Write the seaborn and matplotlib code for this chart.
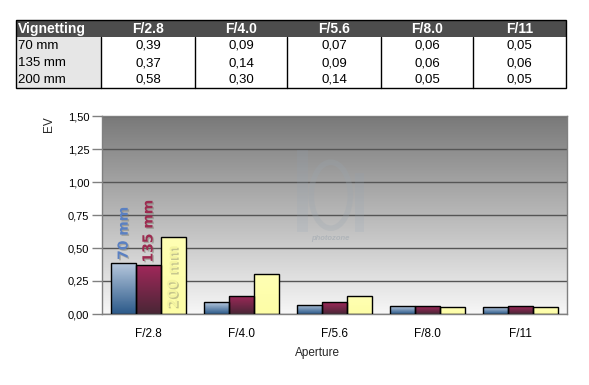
import numpy as np
import pandas as pd
import matplotlib
matplotlib.use('Agg')
import matplotlib.pyplot as plt
import seaborn as sns
import matplotlib.patheffects as pe
from matplotlib.colors import LinearSegmentedColormap, to_rgba
from matplotlib.patches import Rectangle, Ellipse

# ---------------- data ----------------
apertures = ['F/2.8', 'F/4.0', 'F/5.6', 'F/8.0', 'F/11']
lenses = ['70 mm', '135 mm', '200 mm']
ev_70 = [0.39, 0.09, 0.07, 0.06, 0.05]
ev_135 = [0.37, 0.14, 0.09, 0.06, 0.06]
ev_200 = [0.58, 0.30, 0.14, 0.05, 0.05]
yticks = [0.0, 0.25, 0.50, 0.75, 1.00, 1.25, 1.50]
table_title = 'Vignetting'

# ---------------- style ----------------
sns.set_theme(style='white')
plt.rcParams['font.family'] = ['Liberation Sans', 'DejaVu Sans']

W, H = 589, 385
fig = plt.figure(figsize=(W / 100, H / 100), dpi=100)
fig.patch.set_facecolor('white')

df = pd.DataFrame({
    'Aperture': apertures * 3,
    'EV': ev_70 + ev_135 + ev_200,
    'Lens': [l for l in lenses for _ in apertures],
})

base_cols = ['#6f8fb5', '#7a2845', '#ffffaa']
grad_cols = {
    0: ('#2c5a8a', '#b8c9de'),   # bottom, top
    1: ('#4a2636', '#a0285a'),
    2: ('#fdfda6', '#ffffb4'),
}

ax = fig.add_axes([102 / W, 1 - 314 / H, (567 - 102) / W, (314 - 116) / H])

# background gradient
bg = LinearSegmentedColormap.from_list('bg', ['#f7f7f7', '#797979'])
ax.imshow(np.linspace(0, 1, 256).reshape(-1, 1), cmap=bg, origin='lower',
          extent=[-0.5, 4.5, 0, 1.5], aspect='auto', zorder=0)

sns.barplot(data=df, x='Aperture', y='EV', hue='Lens', palette=base_cols,
            hue_order=lenses, order=apertures, width=0.8, edgecolor='black',
            linewidth=1, legend=False, ax=ax, zorder=3)

pal_rgba = [to_rgba(c) for c in base_cols]
bar_info = {}
for p in list(ax.patches):
    fc = p.get_facecolor()
    k = int(np.argmin([sum((a - b) ** 2 for a, b in zip(fc[:3], c[:3])) for c in pal_rgba]))
    x, w, h = p.get_x(), p.get_width(), p.get_height()
    cm = LinearSegmentedColormap.from_list('b%d' % k, list(grad_cols[k]))
    im = ax.imshow(np.linspace(0, 1, 64).reshape(-1, 1), cmap=cm, origin='lower',
                   extent=[x, x + w, 0, h], aspect='auto', zorder=2.5)
    im.set_clip_path(p)
    p.set_facecolor('none')
    p.set_zorder(3)
    bar_info.setdefault(k, []).append((x + w / 2, h))

ax.set_xlim(-0.5, 4.5)
ax.set_ylim(0, 1.5)
ax.set_yticks(yticks)
ax.set_yticklabels([f'{v:.2f}'.replace('.', ',') for v in yticks])
ax.yaxis.grid(True, color='#555555', lw=1)
ax.xaxis.grid(False)
ax.set_axisbelow(True)
for g in ax.get_ygridlines():
    g.set_zorder(1)
for s in ax.spines.values():
    s.set_color('#808080')
    s.set_linewidth(1)
ax.tick_params(axis='y', left=True, length=7, width=1, color='#808080',
               labelsize=8, pad=2, labelcolor='black')
ax.tick_params(axis='x', length=0, labelsize=8.5, pad=10, labelcolor='black')
ax.set_xlabel('')
ax.set_ylabel('')

# series labels on the first group
lab_cols = ['#5a80c2', '#9c2b50', '#f4f4a0']
for k in range(3):
    xc, h = sorted(bar_info[k])[0]
    ypos = h + 0.02 if k < 2 else 0.045
    ax.text(xc, ypos, lenses[k], rotation=90, ha='center', va='bottom', fontsize=10,
            family='DejaVu Sans', fontweight='bold', color=lab_cols[k], zorder=5,
            path_effects=[pe.withSimplePatchShadow(offset=(1, -1),
                                                   shadow_rgbFace='#707060', alpha=0.4)])

# faint watermark
ax.add_patch(Rectangle((1.6, 0.62), 0.12, 0.62, facecolor='#8fa3b8', alpha=0.14,
                       edgecolor='none', zorder=1.5))
ax.add_patch(Rectangle((2.22, 0.62), 0.1, 0.45, facecolor='#8fa3b8', alpha=0.14,
                       edgecolor='none', zorder=1.5))
ax.add_patch(Ellipse((1.96, 0.9), 0.42, 0.5, facecolor='none', edgecolor='#9aa6b0',
                     lw=4, alpha=0.25, zorder=1.5))
ax.text(1.96, 0.57, 'photozone', ha='center', va='center', fontsize=5.5,
        fontstyle='italic', fontweight='bold', color='#9aa4ad', alpha=0.5, zorder=1.5)

fig.text(317 / W, 1 - 353 / H, 'Aperture', ha='center', va='center', fontsize=8.5)
fig.text(49 / W, 1 - 124 / H, 'EV', ha='center', va='center', rotation=90, fontsize=8.5)

# ---------------- table ----------------
tax = fig.add_axes([0, 0, 1, 1])
tax.set_xlim(0, W)
tax.set_ylim(H, 0)
tax.axis('off')
cols = [16, 101, 195, 287, 381, 473, 566]
rows = [20, 37, 54, 71, 88]
tax.add_patch(Rectangle((cols[0], rows[0]), cols[-1] - cols[0], rows[1] - rows[0],
                        facecolor='#4d4d4d', edgecolor='none'))
tax.add_patch(Rectangle((cols[0], rows[1]), cols[1] - cols[0], rows[-1] - rows[1],
                        facecolor='#e6e6e6', edgecolor='none'))
tax.add_patch(Rectangle((cols[0], rows[0]), cols[-1] - cols[0], rows[-1] - rows[0],
                        facecolor='none', edgecolor='black', lw=1))
for cx in cols[1:-1]:
    tax.plot([cx, cx], [rows[1], rows[-1]], color='black', lw=1)

tax.text(cols[0] + 2, (rows[0] + rows[1]) / 2 + 0.5, table_title, ha='left', va='center',
         color='white', fontweight='bold', fontsize=10)
for j, a in enumerate(apertures):
    tax.text((cols[j + 1] + cols[j + 2]) / 2, (rows[0] + rows[1]) / 2 + 0.5, a,
             ha='center', va='center', color='white', fontweight='bold', fontsize=10)
series = [ev_70, ev_135, ev_200]
for i, (lab, vals) in enumerate(zip(lenses, series)):
    yc = (rows[i + 1] + rows[i + 2]) / 2 + 0.5
    tax.text(cols[0] + 2, yc, lab, ha='left', va='center', color='black', fontsize=9.5)
    for j, v in enumerate(vals):
        tax.text((cols[j + 1] + cols[j + 2]) / 2, yc, f'{v:.2f}'.replace('.', ','),
                 ha='center', va='center', color='black', fontsize=9.5)

fig.savefig('out.png', dpi=100)
